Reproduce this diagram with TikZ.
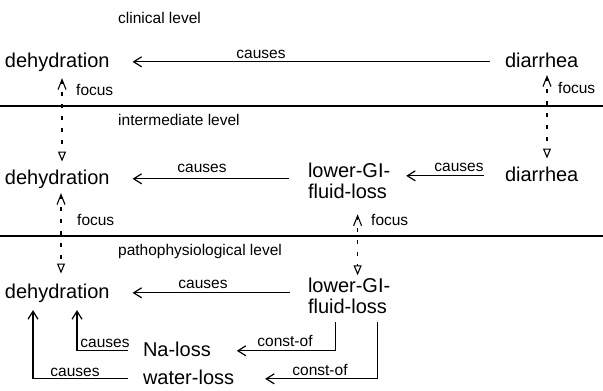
\documentclass[tikz,border=0pt]{standalone}
\usepackage{fontspec}
\setmainfont{Liberation Sans}
\usetikzlibrary{arrows.meta}
\begin{document}
\begin{tikzpicture}[x=1pt,y=-1pt,
  big/.style={font=\fontsize{20}{21}\selectfont, inner sep=0pt, outer sep=0pt, text height=14.5pt, text depth=4.1pt, anchor=base west},
  bigtwo/.style={font=\fontsize{20}{21}\selectfont, inner sep=0pt, outer sep=0pt, anchor=base west},
  lbl/.style={font=\fontsize{15.5}{17}\selectfont, inner sep=0pt, anchor=base},
  lvl/.style={lbl, anchor=base west},
  cause/.style={line width=1.2pt, -{Straight Barb[length=8pt,width=10pt,line width=1.2pt]}},
  focusln/.style={line width=1.2pt, dash pattern=on 4pt off 8pt, {Straight Barb[length=10pt,width=8pt,line width=1.1pt]}-{Triangle[open,length=10pt,width=8pt,line width=1.1pt]}},
  sepline/.style={line width=1.2pt}]
\fill[white] (0,0) rectangle (603,391);
\useasboundingbox (0,0) rectangle (603,391);

% level labels
\node[lvl] (lclin) at (118,23) {clinical level};
\node[lvl] (linter) at (118,125) {intermediate level};
\node[lvl] (lpatho) at (118,255) {pathophysiological level};

% separators
\coordinate (s1a) at (0,106);
\coordinate (s1b) at (603,106);
\coordinate (s2a) at (0,236);
\coordinate (s2b) at (603,236);
\draw[sepline] (s1a) -- (s1b);
\draw[sepline] (s2a) -- (s2b);

% clinical level
\node[big] (dehydC) at (5,67) {dehydration};
\node[big] (diarrC) at (505,67) {diarrhea};

% intermediate level
\node[big] (dehydI) at (5,184) {dehydration};
\node[bigtwo] (lowergiI) at (308,177) {\begin{tabular}[t]{@{}l@{}}lower-GI-\\fluid-loss\end{tabular}};
\node[big] (diarrI) at (505,181) {diarrhea};

% pathophysiological level
\node[big] (dehydP) at (5,298) {dehydration};
\node[bigtwo] (lowergiP) at (308,292) {\begin{tabular}[t]{@{}l@{}}lower-GI-\\fluid-loss\end{tabular}};
\node[big] (naloss) at (143,356) {Na-loss};
\node[big] (waterloss) at (143,384) {water-loss};

% causes connectors
\draw[cause, shorten <=15pt, shorten >=23pt] (diarrC.west) -- (dehydC.east);
\node[lbl] (c1) at (261,58) {causes};

\draw[cause, shorten <=21pt, shorten >=16pt] (diarrI.west) -- (diarrI.west -| lowergiI.east);
\node[lbl] (c2) at (459,171) {causes};
\draw[cause, shorten <=19pt, shorten >=23pt] (lowergiI.west |- dehydI.east) -- (dehydI.east);
\node[lbl] (c3) at (202,172) {causes};

\draw[cause, shorten <=18pt, shorten >=23pt] (lowergiP.west |- dehydP.east) -- (dehydP.east);
\node[lbl] (c4) at (203,288) {causes};

\draw[cause, shorten <=3pt, shorten >=26pt] ([xshift=-13.5pt]lowergiP.south) |- (naloss.east);
\node[lbl] (k1) at (285,346) {const-of};
\draw[cause, shorten <=3pt, shorten >=31pt] ([xshift=28.5pt]lowergiP.south) |- (waterloss.east);
\node[lbl] (k2) at (320,375) {const-of};

\draw[cause, shorten <=15pt, shorten >=8pt] (naloss.west) -| ([xshift=19.75pt]dehydP.south);
\node[lbl] (c5) at (105,347) {causes};
\draw[cause, shorten <=15pt, shorten >=8pt] (waterloss.west) -| ([xshift=-24.25pt]dehydP.south);
\node[lbl] (c6) at (75,376) {causes};

% focus connectors
\draw[focusln, shorten <=7pt, shorten >=8pt] ([xshift=4.75pt]dehydC.south) -- ([xshift=4.75pt]dehydI.north);
\node[lvl] (f1) at (76,95) {focus};
\draw[focusln, shorten <=4pt, shorten >=8pt] ([xshift=5.3pt]diarrC.south) -- ([xshift=5.3pt]diarrI.north);
\node[lvl] (f2) at (558,93) {focus};
\draw[focusln, shorten <=5pt, shorten >=10pt] ([xshift=3.75pt]dehydI.south) -- ([xshift=3.75pt]dehydP.north);
\node[lvl] (f3) at (77,225) {focus};
\draw[focusln, shorten <=10pt, shorten >=2pt] ([xshift=8.5pt]lowergiI.south) -- ([xshift=8.5pt]lowergiP.north);
\node[lvl] (f4) at (371,225) {focus};
\end{tikzpicture}
\end{document}
